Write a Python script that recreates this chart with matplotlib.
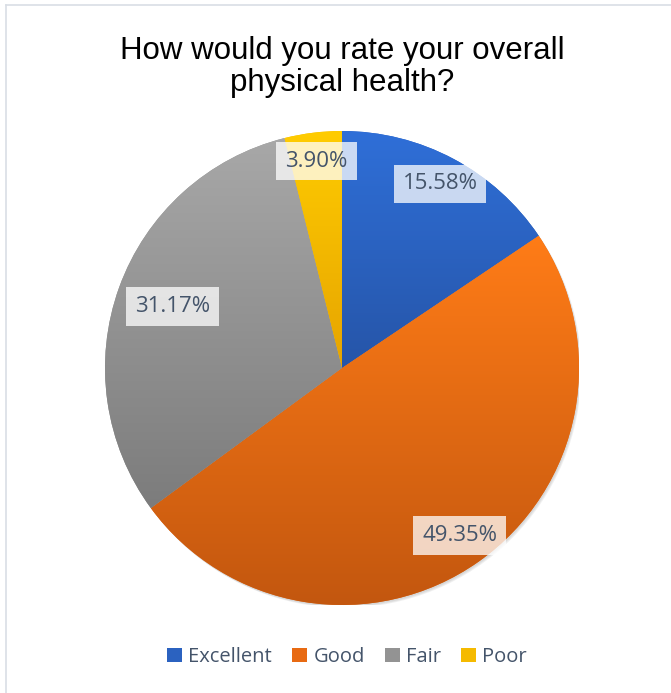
import matplotlib.pyplot as plt
import numpy as np
from matplotlib.colors import LinearSegmentedColormap
from matplotlib.lines import Line2D
from matplotlib.patches import Circle, Patch

# data
categories = ["Excellent", "Good", "Fair", "Poor"]
shares = [15.58, 49.35, 31.17, 3.90]
top_colors = ["#2F6FD8", "#FF7C17", "#A8A8A8", "#FFCC00"]
bottom_colors = ["#2655A8", "#C3570F", "#7C7C7C", "#E6A400"]
solid_colors = ["#2B62C0", "#E86A12", "#939393", "#F5BA00"]
label_dist = [0.88, 0.865, 0.76, 0.88]

W, H = 671, 693
fig = plt.figure(figsize=(W / 100, H / 100), dpi=100)

cx, cy, r = 342, 368, 237
ax = fig.add_axes([(cx - r) / W, (H - cy - r) / H, 2 * r / W, 2 * r / H])
ax.set_xlim(-1, 1)
ax.set_ylim(-1, 1)
ax.axis("off")

# soft shadow behind the pie
for k, a in enumerate([0.05, 0.05, 0.06]):
    ax.add_patch(Circle((0.004 + 0.003 * k, -0.006 - 0.003 * k), 1.0, color="black",
                        alpha=a, lw=0, zorder=0))

wedges, _ = ax.pie(shares, startangle=90, counterclock=False, radius=1.0,
                   colors=solid_colors, wedgeprops=dict(linewidth=0))

for w, c_top, c_bot in zip(wedges, top_colors, bottom_colors):
    bb = w.get_path().transformed(w.get_patch_transform()).get_extents()
    cmap = LinearSegmentedColormap.from_list("g", [c_bot, c_top])
    grad = np.linspace(0, 1, 256).reshape(-1, 1)
    im = ax.imshow(grad, cmap=cmap, origin="lower", aspect="auto",
                   extent=(-1, 1, bb.y0, bb.y1), zorder=w.get_zorder() + 0.1)
    im.set_clip_path(w)

ax.set_xlim(-1, 1)
ax.set_ylim(-1, 1)

for w, val, d in zip(wedges, shares, label_dist):
    mid = np.deg2rad((w.theta1 + w.theta2) / 2)
    ax.text(d * np.cos(mid), d * np.sin(mid), f"{val:.2f}%", ha="center", va="center",
            fontsize=16, family="Open Sans", color="#44546A", zorder=10,
            bbox=dict(boxstyle="square,pad=0.4", fc="white", ec="none", alpha=0.75))

fig.text(cx / W, 1 - 67 / H, "How would you rate your overall\nphysical health?",
         ha="center", va="center", fontsize=22.5, family="Liberation Sans",
         color="black", linespacing=1.1)

handles = [Patch(facecolor=c, edgecolor="none") for c in solid_colors]
fig.legend(handles, categories, loc="center", bbox_to_anchor=(347 / W, 1 - 657 / H),
           ncol=4, frameon=False, handlelength=0.75, handleheight=0.75,
           handletextpad=0.3, columnspacing=1.0,
           prop=dict(family="Open Sans", size=14.5), labelcolor="#44546A")

# chart border
fig.add_artist(Line2D([5.5 / W, 5.5 / W], [0, 1 - 4.5 / H], color="#D9DEE5", lw=1.2))
fig.add_artist(Line2D([5.5 / W, 1], [1 - 4.5 / H, 1 - 4.5 / H], color="#D9DEE5", lw=1.2))

fig.savefig("out.png", dpi=100, facecolor="white")
